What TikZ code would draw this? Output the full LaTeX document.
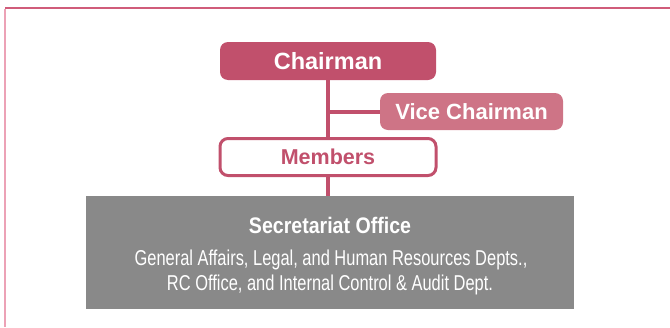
\documentclass[tikz,border=0pt]{standalone}
\usepackage{fontspec}
\setmainfont{Liberation Sans}
\newfontfamily\secfont[FakeStretch=0.87]{Liberation Sans Bold}
\newfontfamily\deptfont[FakeStretch=0.765]{Liberation Sans}
\usetikzlibrary{backgrounds}
\definecolor{chaircol}{RGB}{193,80,108}
\definecolor{vicecol}{RGB}{206,116,134}
\definecolor{secgray}{RGB}{137,137,137}
\definecolor{frametop}{RGB}{208,92,122}
\definecolor{frameleft}{RGB}{236,162,182}
\tikzset{
  chairbox/.style={rectangle, rounded corners=8pt, fill=chaircol, text=white,
    font=\bfseries\fontsize{23.5}{28}\selectfont, inner sep=0pt,
    minimum width=216pt, minimum height=38pt},
  vicebox/.style={rectangle, rounded corners=8pt, fill=vicecol, text=white,
    font=\bfseries\fontsize{22}{26}\selectfont, inner sep=0pt,
    minimum width=183pt, minimum height=37pt},
  memberbox/.style={rectangle, rounded corners=8pt, fill=white, draw=chaircol,
    line width=3pt, text=chaircol,
    font=\bfseries\fontsize{21.5}{26}\selectfont, inner sep=0pt,
    minimum width=216pt, minimum height=37pt},
  secbox/.style={rectangle, fill=secgray, inner sep=0pt,
    minimum width=488pt, minimum height=113pt},
  sectitle/.style={anchor=base, inner sep=0pt, text=white,
    font=\secfont\fontsize{22.5}{26}\selectfont},
  secline/.style={anchor=base, inner sep=0pt, text=white,
    font=\deptfont\fontsize{21.5}{25}\selectfont},
  link/.style={draw=chaircol, line width=4pt},
}
\begin{document}
\begin{tikzpicture}[x=1pt,y=-1pt]
\useasboundingbox (0,0) rectangle (670,327);
\draw[frametop, line width=1.6pt] (5,8) -- (670,8);
\draw[frameleft, line width=1.6pt] (5,8.8) -- (5,327);
\node[chairbox] (chair) at (328,61) {Chairman};
\node[vicebox] (vice) at (471.5,111.5) {Vice Chairman};
\node[memberbox] (members) at (328,157) {Members};
\node[secbox] (sec) at (330,252.5) {};
\node[sectitle] (sectitle) at (330,233) {Secretariat Office};
\node[secline] (line1) at (331,265.5) {General Affairs, Legal, and Human Resources Depts.,};
\node[secline] (line2) at (330,290.5) {RC Office, and Internal Control \& Audit Dept.};
\begin{scope}[on background layer]
\draw[link] (chair.south) -- (chair.south |- sec.north);
\draw[link] (chair.south |- vice.west) -- (vice.west);
\end{scope}
\end{tikzpicture}
\end{document}
